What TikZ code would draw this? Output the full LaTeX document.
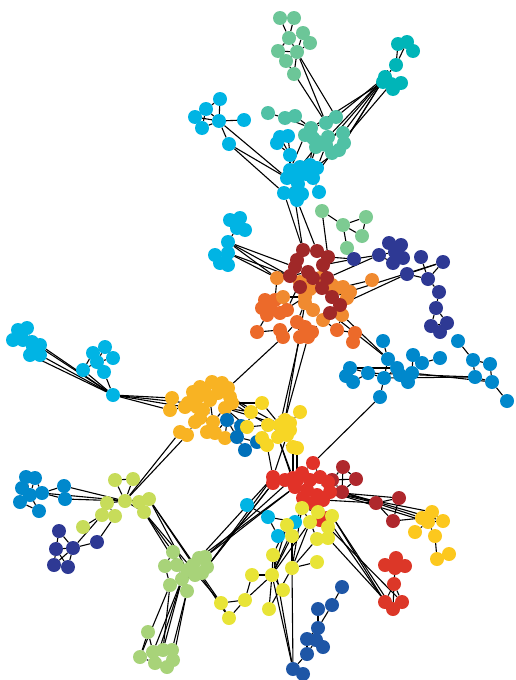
\documentclass[tikz,border=0pt]{standalone}
\usetikzlibrary{backgrounds}

% node colours
\definecolor{mint}{RGB}{108,198,152}
\definecolor{teal2}{RGB}{0,181,184}
\definecolor{seagreen}{RGB}{80,193,165}
\definecolor{skyc}{RGB}{0,180,228}
\definecolor{lgreen}{RGB}{125,203,146}
\definecolor{navyc}{RGB}{46,57,148}
\definecolor{darkred}{RGB}{160,40,40}
\definecolor{lorange}{RGB}{240,138,48}
\definecolor{dorange}{RGB}{236,106,42}
\definecolor{bluec}{RGB}{0,136,204}
\definecolor{bluek}{RGB}{0,112,186}
\definecolor{yorange}{RGB}{248,179,35}
\definecolor{yellowc}{RGB}{247,214,37}
\definecolor{redc}{RGB}{225,50,40}
\definecolor{brick}{RGB}{175,40,45}
\definecolor{gold}{RGB}{252,200,30}
\definecolor{red2}{RGB}{220,55,40}
\definecolor{lemon}{RGB}{232,228,55}
\definecolor{nblue}{RGB}{30,86,166}
\definecolor{lime}{RGB}{199,220,90}
\definecolor{pgreen}{RGB}{168,211,121}

\begin{document}
\begin{tikzpicture}[x=1pt, y=-1pt,
  dot/.style={circle, draw=none, inner sep=0pt, minimum size=14pt},
  link/.style={line width=1.1pt, black},
]
\useasboundingbox (0,0) rectangle (515,680);

% === top clusters ===
\foreach \x/\y [count=\i] in {280/18, 294/18, 289/38, 303/33, 310/43, 278/51, 297/52, 286/61, 294/74}
  \node[dot, fill=mint] (m\i) at (\x,\y) {};
\foreach \x/\y [count=\i] in {398/44, 407/42, 413/51, 396/65, 385/77, 391/84, 401/83, 393/89, 383/82}
  \node[dot, fill=teal2] (t\i) at (\x,\y) {};
\foreach \x/\y [count=\i] in {268/113, 285/118, 295/116, 311/128, 326/123, 336/117, 313/138, 318/142, 328/137, 343/133, 344/143, 332/153, 339/150, 316/147, 326/145, 305/135}
  \node[dot, fill=seagreen] (s\i) at (\x,\y) {};
\foreach \x/\y [count=\i] in {220/99, 206/109, 195/117, 202/128, 219/121, 244/120, 229/144}
  \node[dot, fill=skyc] (c\i) at (\x,\y) {};
\foreach \x/\y [count=\i] in {280/137, 288/136, 277/143, 290/155, 290/170, 300/167, 310/165, 317/168, 287/178, 295/174, 298/184, 306/174, 313/178, 284/193, 294/194, 302/194, 319/192, 297/200}
  \node[dot, fill=skyc] (d\i) at (\x,\y) {};
\foreach \x/\y [count=\i] in {322/211, 343/225, 366/217, 362/236, 347/248}
  \node[dot, fill=lgreen] (e\i) at (\x,\y) {};
\foreach \x/\y [count=\i] in {230/220, 240/218, 245/230, 237/228, 228/242, 215/255, 228/253, 220/263, 228/265}
  \node[dot, fill=skyc] (f\i) at (\x,\y) {};

% === centre ===
\foreach \x/\y [count=\i] in {265/300, 270/307, 267/315, 280/313, 287/310, 257/332, 280/330, 283/337, 297/322, 305/327, 312/332, 300/337, 308/337, 337/330, 355/333, 353/342, 275/300, 262/308}
  \node[dot, fill=dorange] (p\i) at (\x,\y) {};
\foreach \x/\y [count=\i] in {277/278, 283/297, 300/282, 310/289, 320/278, 337/288, 343/287, 350/292, 347/298, 372/280, 313/310, 323/320, 342/315, 305/297, 305/303, 332/285}
  \node[dot, fill=lorange] (o\i) at (\x,\y) {};
\foreach \x/\y [count=\i] in {303/250, 317/251, 328/257, 323/265, 295/267, 290/276, 308/272, 313/278, 300/287, 322/288, 327/278, 332/297, 340/305, 330/313, 297/260}
  \node[dot, fill=darkred] (r\i) at (\x,\y) {};
\foreach \x/\y [count=\i] in {389/243, 401/245, 379/255, 393/263, 403/258, 395/252, 354/259, 421/257, 443/262, 407/274, 428/279, 439/292, 436/308, 431/326, 440/332, 447/323}
  \node[dot, fill=navyc] (n\i) at (\x,\y) {};
\foreach \x/\y [count=\i] in {383/341, 388/359, 368/373, 350/368, 346/376, 353/382, 384/378, 397/368, 400/375, 408/382, 412/373, 413/355, 422/363, 440/358, 380/397, 458/341, 473/360, 490/364, 475/377, 492/382, 507/401}
  \node[dot, fill=bluec] (b\i) at (\x,\y) {};

% === left ===
\foreach \x/\y [count=\i] in {18/330, 27/328, 13/340, 23/340, 32/342, 40/345, 30/355, 40/355, 33/347}
  \node[dot, fill=skyc] (g\i) at (\x,\y) {};
\foreach \x/\y [count=\i] in {93/353, 105/347, 113/358, 97/362, 83/370, 104/372, 113/395}
  \node[dot, fill=skyc] (h\i) at (\x,\y) {};
\foreach \x/\y [count=\i] in {200/387, 212/382, 222/383, 228/388, 230/397, 232/403, 225/408, 193/392, 197/398, 210/400, 188/403, 172/398, 170/410, 185/407, 197/407, 200/418, 195/422, 213/422, 207/432, 215/433, 187/435, 225/438, 203/410, 180/432, 205/392, 218/393}
  \node[dot, fill=yorange] (y\i) at (\x,\y) {};
\foreach \x/\y [count=\i] in {227/420, 237/437, 245/450, 257/442, 241/426}
  \node[dot, fill=bluek] (k\i) at (\x,\y) {};
\foreach \x/\y [count=\i] in {262/403, 251/412, 247/427, 268/425, 262/438, 267/445, 280/425, 285/420, 290/423, 287/435, 278/437, 300/412, 293/447, 297/448, 290/430}
  \node[dot, fill=yellowc] (z\i) at (\x,\y) {};

% === lower right ===
\foreach \x/\y [count=\i] in {343/467, 356/479, 342/492, 332/480, 376/503, 399/498, 393/521}
  \node[dot, fill=brick] (w\i) at (\x,\y) {};
\foreach \x/\y [count=\i] in {313/463, 273/477, 273/483, 293/478, 302/473, 320/477, 328/482, 330/492, 295/487, 307/490, 317/495, 323/500, 303/498, 312/503, 297/480, 310/480, 320/520, 327/518, 285/480}
  \node[dot, fill=redc] (q\i) at (\x,\y) {};
\foreach \x/\y [count=\i] in {432/512, 422/518, 443/521, 428/522, 415/532, 435/536, 437/559, 449/554}
  \node[dot, fill=gold] (u\i) at (\x,\y) {};
\foreach \x/\y [count=\i] in {396/558, 385/565, 405/566, 395/568, 394/584, 385/602, 402/602, 393/609}
  \node[dot, fill=red2] (v\i) at (\x,\y) {};
\foreach \x/\y [count=\i] in {247/505, 268/517, 278/536, 295/522}
  \node[dot, fill=skyc] (x\i) at (\x,\y) {};
\foreach \x/\y [count=\i] in {302/508, 318/512, 332/516, 287/525, 310/522, 328/527, 292/536, 317/539, 328/538, 273/555, 317/562, 272/575, 292/568, 252/575, 283/590, 245/600, 221/603, 229/618, 269/609}
  \node[dot, fill=lemon] (l\i) at (\x,\y) {};
\foreach \x/\y [count=\i] in {342/587, 332/605, 318/609, 318/628, 307/639, 316/640, 323/647, 307/654, 293/669, 303/674}
  \node[dot, fill=nblue] (j\i) at (\x,\y) {};

% === lower left ===
\foreach \x/\y [count=\i] in {115/480, 133/479, 125/501, 107/503, 139/502, 149/499, 144/512, 102/515, 115/516, 83/527}
  \node[dot, fill=lime] (a\i) at (\x,\y) {};
\foreach \x/\y [count=\i] in {59/531, 56/549, 73/548, 97/542, 54/565, 68/567}
  \node[dot, fill=navyc] (nv\i) at (\x,\y) {};
\foreach \x/\y [count=\i] in {26/477, 35/478, 22/488, 30/495, 42/493, 64/486, 65/499, 20/502, 39/511}
  \node[dot, fill=bluec] (bl\i) at (\x,\y) {};
\foreach \x/\y [count=\i] in {173/552, 165/566, 177/565, 170/585, 182/579, 187/591, 187/570, 199/558, 207/567, 202/573, 193/565, 205/557, 195/575}
  \node[dot, fill=pgreen] (pg\i) at (\x,\y) {};
\foreach \x/\y [count=\i] in {148/632, 140/657, 153/652, 163/650, 172/650, 173/660, 155/663, 167/667}
  \node[dot, fill=pgreen] (pb\i) at (\x,\y) {};

% === edges ===
\begin{pgfonlayer}{background}
% top
\foreach \a/\b in {m1/m3, m2/m3, m3/m4, m3/m7, m3/m6, m4/m5, m5/m7, m6/m7, m7/m8, m7/m9, m4/m7, m6/m8,
    m7/s5, m7/s6, m8/s5,
    t1/t2, t2/t3, t1/t3, t1/t4, t2/t4, t4/t5, t5/t6, t5/t9, t6/t7, t6/t8, t7/t8, t9/t6,
    t5/s6, t5/s10, t5/s11, t5/s9, t5/s13, t5/s15, t9/s4, t6/s12,
    s1/s2, s2/s3, s2/s4, s4/s5, s5/s6, s4/s7, s4/s16, s7/s8, s8/s9, s9/s10, s10/s11, s11/s13,
    s12/s13, s12/s15, s14/s8, s15/s9, s16/s14, s3/s4,
    s7/d7, s14/d6, s15/d8, s13/d12, s8/d7, s16/d5, s12/d13,
    c1/c5, c2/c5, c2/c3, c3/c4, c3/c5, c4/c5, c5/c6, c5/c7, c2/c4, c1/c2,
    c5/d9, c7/d9, c7/d14,
    d1/d2, d1/d4, d2/d4, d3/d4, d4/d5, d5/d6, d6/d7, d7/d8, d5/d9, d9/d10, d10/d11, d11/d14,
    d11/d15, d12/d13, d13/d17, d11/d16, d16/d18, d15/d18, d10/d12, d6/d12,
    d14/r1, d15/r1, d18/r2,
    e1/e2, e2/e3, e2/e4, e3/e4, e2/e5, e1/r3,
    f1/f2, f2/f3, f1/f4, f3/f4, f4/f5, f5/f7, f6/f7, f6/f8, f7/f9, f8/f9,
    f5/r6, f5/r5, f5/o1, f7/o1, f7/r6}
  \draw[link] (\a) -- (\b);
% centre
\foreach \a/\b in {r1/r2, r2/r3, r3/r4, r1/r15, r15/r5, r5/r6, r6/r7, r7/r8, r8/r9, r9/r10, r10/r11,
    r11/r4, r10/r12, r12/r13, r13/r14, r7/o3, r8/o4, o3/o4, o4/o5, o5/r11, o5/o16, o16/o6, o6/o7,
    o7/o8, o8/o9, o9/o13, o13/r14, o10/o7, o6/r12, o1/r6, o1/p17, p17/p1, p1/p2, p2/p3, p3/p18,
    p1/p18, p2/p4, p4/p5, p5/o2, o2/o14, o14/o15, o15/p9, p9/p10, p10/p11, p11/p13, p12/p13,
    p9/p12, p6/p3, p6/p7, p7/p8, p8/p9, o11/o12, o11/o15, o12/p14, p14/o13, p14/p15, p15/p16,
    o12/r14, r9/o14, r5/o1, p4/o14, o3/p5, r13/o8,
    n7/r3, n3/r11, n10/r13, n9/r12, n7/r4, o13/b2, r14/b2,
    n1/n2, n1/n6, n2/n6, n6/n3, n6/n4, n6/n5, n4/n5, n3/n4, n3/n7, n1/n5, n8/n11, n9/n10,
    n10/n11, n9/n11, n11/n12, n12/n13, n13/n14, n13/n16, n14/n15, n15/n16, n14/n16,
    b1/b2, b2/b7, b3/b4, b4/b5, b5/b6, b3/b6, b3/b7, b7/b8, b8/b9, b9/b10, b10/b11, b11/b12,
    b12/b13, b13/b14, b7/b15, b16/b17, b17/b18, b17/b19, b18/b20, b19/b20, b20/b21, b3/b19,
    b7/b19, b11/b20, b4/b8, b15/q1}
  \draw[link] (\a) -- (\b);
% left
\foreach \a/\b in {g1/g2, g1/g3, g2/g4, g3/g4, g4/g5, g5/g6, g4/g9, g9/g7, g9/g8, g7/g8, g6/g8, g2/g5,
    g6/h7, g8/h7, g7/h7, g5/h7,
    h1/h2, h1/h4, h2/h4, h2/h3, h3/h4, h4/h5, h4/h6, h1/h5, h5/h7, h6/h7,
    h7/y12, h7/y13, h7/y11, h7/y14,
    y1/y2, y2/y3, y3/y4, y4/y5, y5/y6, y6/y7, y1/y8, y8/y9, y9/y10, y10/y23, y11/y14, y12/y13,
    y13/y14, y14/y15, y15/y16, y16/y17, y16/y18, y18/y19, y19/y20, y17/y21, y21/y24, y20/y22,
    y10/y25, y25/y26, y26/y4, y23/y15, y10/y18, y7/y18,
    y7/z2, y6/z1, y5/z2, y7/z3, y22/k1, y20/k1, y6/z4, y7/z7, y5/z7,
    k1/k2, k2/k3, k3/k4, k2/k4, k1/k5, k5/k2, k4/z6,
    z1/z2, z2/z3, z3/z4, z4/z5, z5/z6, z4/z7, z7/z8, z8/z9, z9/z10, z10/z11, z11/z7, z12/z9,
    z10/z13, z13/z14, z15/z7, z15/z10, z1/z7, z3/k5,
    z13/q4, z14/q15, z10/q2, z6/q2, z11/q9, z11/q4,
    p12/z7, p13/z8, o15/z8, p8/y4}
  \draw[link] (\a) -- (\b);
% lower right
\foreach \a/\b in {q1/q5, q5/q4, q4/q15, q15/q2, q2/q3, q3/q9, q9/q10, q10/q11, q11/q12, q12/q8,
    q8/q7, q7/q6, q6/q1, q10/q16, q16/q13, q13/q14, q14/q11, q7/q16, q19/q2, q17/q18, q14/q17,
    q7/w4, w4/w1, w1/w2, w2/w3, w3/w4, w1/w3, w2/w4, q8/w5, q12/w5, w5/w6, w5/w7, w6/w7, q8/w6,
    q8/u1, q8/u4, w3/u2, w3/u3, w7/u2,
    u1/u2, u1/u3, u2/u4, u3/u4, u4/u5, u4/u6, u6/u7, u7/u8, u1/u4,
    l3/v6, l3/v8, l6/v7, q18/v6, l9/v8,
    v1/v2, v1/v3, v2/v4, v3/v4, v4/v5, v5/v6, v5/v7, v6/v8, v7/v8, v5/v8, v1/v4,
    x1/x2, x2/x3, x2/x4, x4/l4,
    l1/l2, l2/l3, l1/q14, l1/l5, l2/l5, l3/l6, l5/l6, l4/l7, l5/l8, l8/l9, l6/l9, l4/l12,
    l5/l12, l7/l12, l1/l12, l12/l14, l12/l15, l12/l16, l13/l5, l13/l7, l13/l8, l13/l1,
    l11/l13, l12/l10, l10/l4, l16/l17, l16/l18, l14/l16, l12/l19, l13/l19, l17/l18,
    l12/j9, l13/j9, l10/j9,
    j1/j2, j2/j3, j2/j4, j3/j4, j4/j5, j4/j7, j5/j6, j6/j7, j5/j8, j6/j8, j8/j9, j9/j10}
  \draw[link] (\a) -- (\b);
% lower left
\foreach \a/\b in {a1/a3, a2/a3, a3/a4, a3/a5, a3/a6, a5/a6, a5/a7, a4/a8, a4/a9, a8/a9, a8/a10,
    a3/a7, a1/a2,
    bl6/a3, bl7/a3, bl5/a5, nv3/a8, nv4/a9, y21/a3, y24/a3, a7/pg1, a7/pg3, a6/pg7,
    a7/l17, a6/l18, a6/l17,
    bl1/bl2, bl1/bl3, bl2/bl4, bl3/bl4, bl4/bl5, bl2/bl5, bl5/bl6, bl5/bl7, bl3/bl8, bl8/bl9,
    bl4/bl9, bl1/bl4,
    nv1/nv2, nv1/nv3, nv2/nv3, nv2/nv5, nv3/nv6, nv5/nv6, nv2/nv6, nv3/nv4, nv3/nv5,
    pg1/pg2, pg1/pg3, pg2/pg3, pg3/pg11, pg11/pg8, pg8/pg12, pg12/pg9, pg9/pg10, pg10/pg13,
    pg13/pg5, pg5/pg4, pg4/pg2, pg5/pg6, pg11/pg7, pg7/pg13, pg3/pg5,
    pg8/q9, pg9/q2, pg12/q9, pg8/q2, pg12/q4, pg9/q3, pg10/q3,
    pg5/pb3, pg5/pb4, pg6/pb5, pg6/pb6, pg4/pb2, pg5/pb7, pg4/pb4,
    pb1/pb2, pb1/pb3, pb2/pb7, pb3/pb4, pb4/pb5, pb5/pb6, pb6/pb8, pb7/pb8, pb2/pb4}
  \draw[link] (\a) -- (\b);
\end{pgfonlayer}

\end{tikzpicture}
\end{document}
